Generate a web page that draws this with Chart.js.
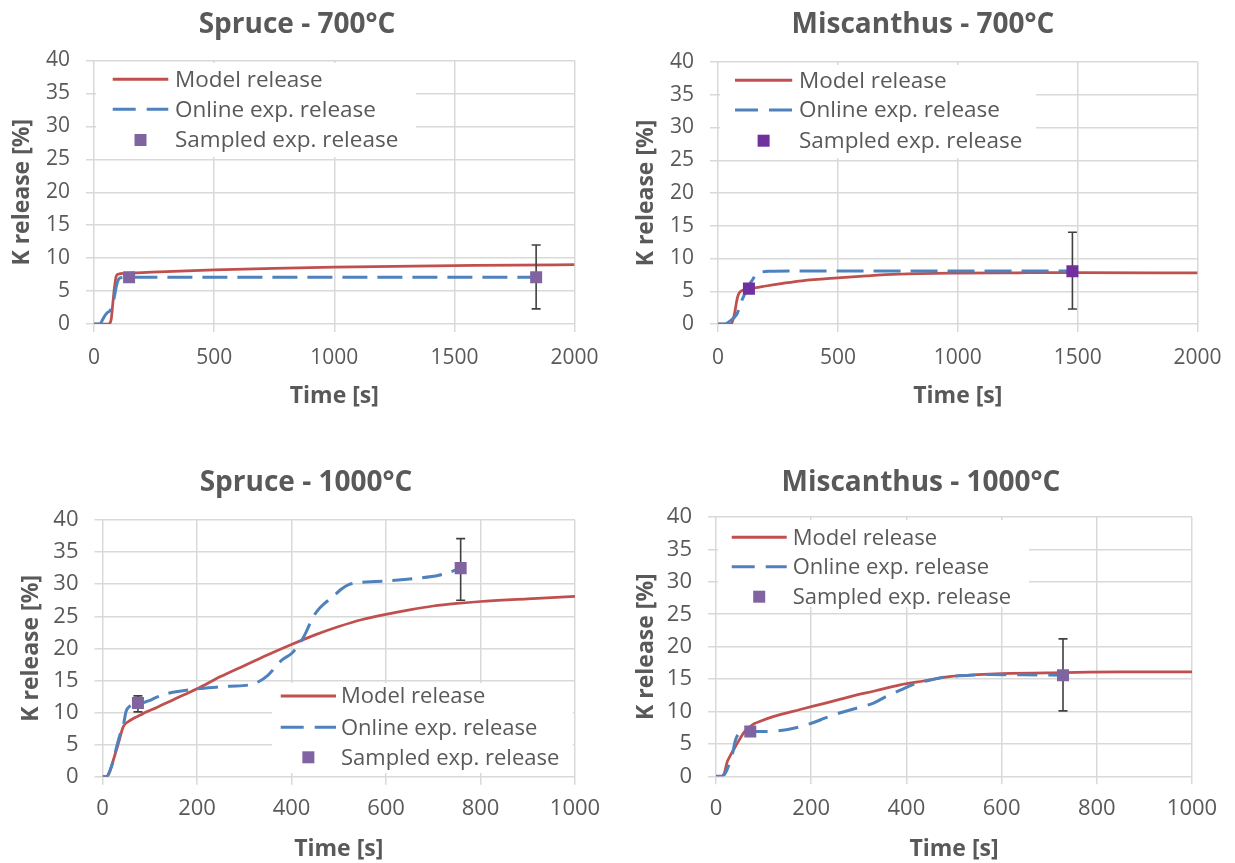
<!DOCTYPE html>
<html><head><meta charset="utf-8">
<script src="https://cdn.jsdelivr.net/npm/chart.js@4/dist/chart.umd.min.js"></script>
<style>
html,body{margin:0;padding:0;background:#fff;width:1235px;height:863px;overflow:hidden}
canvas{position:absolute}
</style></head><body>
<canvas id="c1"></canvas><canvas id="c2"></canvas><canvas id="c3"></canvas><canvas id="c4"></canvas>
<script>
// ---------- DATA ----------
const seriesLabels = ['Model release', 'Online exp. release', 'Sampled exp. release'];
const panelTitles = ['Spruce - 700°C', 'Miscanthus - 700°C', 'Spruce - 1000°C', 'Miscanthus - 1000°C'];
const xAxisTitle = 'Time [s]';
const yAxisTitle = 'K release [%]';
const yTicks = [0, 5, 10, 15, 20, 25, 30, 35, 40];
const xTicks700 = [0, 500, 1000, 1500, 2000];
const xTicks1000 = [0, 200, 400, 600, 800, 1000];

// Spruce 700 °C  [time s, K release %]
const spruce700Model = [[0,0],[60,0],[66,0.1],[72,0.8],[78,3],[85,5.5],[92,7.2],[100,7.55],[130,7.7],[200,7.8],[300,7.95],[500,8.2],[750,8.45],[1000,8.65],[1250,8.75],[1500,8.85],[1750,8.95],[2000,9.0]];
const spruce700Online = [[0,0],[25,0],[35,0.6],[45,1.25],[55,1.7],[66,2.0],[72,2.4],[80,3.3],[88,4.8],[94,5.9],[100,6.6],[108,7.0],[130,7.08],[300,7.1],[1000,7.1],[1840,7.1]];
const spruce700SampledT = [146, 1840];
const spruce700SampledK = [7.1, 7.1];
const spruce700ErrLow = [null, 2.3];
const spruce700ErrHigh = [null, 12.0];

// Miscanthus 700 °C
const misc700Model = [[0,0],[55,0],[62,0.6],[70,1.8],[78,3.5],[85,4.5],[95,5.0],[130,5.35],[200,5.8],[270,6.2],[350,6.6],[500,7.05],[620,7.35],[750,7.6],[1000,7.77],[1250,7.82],[1500,7.85],[2000,7.8]];
const misc700Online = [[0,0],[28,0],[48,0.4],[69,1.05],[80,1.6],[90,2.6],[97,3.4],[108,4.3],[118,5.15],[132,6.1],[145,6.8],[155,7.4],[166,7.75],[185,7.95],[210,8.05],[300,8.1],[800,8.1],[1480,8.1]];
const misc700SampledT = [129, 1478];
const misc700SampledK = [5.4, 8.05];
const misc700ErrLow = [null, 2.3];
const misc700ErrHigh = [null, 14.0];

// Spruce 1000 °C
const spruce1000Model = [[0,0],[8,0],[14,0.5],[23,2.6],[34,5.3],[44,7.8],[55,8.6],[66,9.1],[80,9.6],[90,10.0],[115,10.8],[150,12.0],[200,13.7],[250,15.6],[300,17.3],[350,19.0],[400,20.6],[450,22.1],[500,23.4],[550,24.5],[600,25.3],[650,26.0],[700,26.6],[750,27.0],[800,27.3],[900,27.7],[1000,28.1]];
const spruce1000Online = [[0,0],[8,0],[16,1.0],[24,2.8],[30,4.7],[38,6.8],[44,8.0],[50,10.2],[58,11.0],[70,11.3],[85,11.5],[97,11.8],[115,12.4],[139,13.0],[170,13.4],[200,13.7],[240,13.95],[270,14.1],[310,14.3],[330,14.8],[350,15.8],[365,17.0],[380,18.2],[400,19.2],[415,20.5],[428,22.1],[440,24.0],[453,25.7],[470,27.0],[487,28.0],[505,29.2],[520,29.9],[550,30.3],[578,30.4],[620,30.6],[662,30.9],[712,31.4],[740,32.0],[758,32.5]];
const spruce1000SampledT = [75, 758];
const spruce1000SampledK = [11.5, 32.5];
const spruce1000ErrLow = [10.1, 27.5];
const spruce1000ErrHigh = [12.6, 37.1];

// Miscanthus 1000 °C
const misc1000Model = [[0,0],[12,0],[18,0.6],[23,2.1],[30,3.2],[37,4.1],[48,5.5],[58,6.7],[65,7.3],[72,7.7],[80,8.1],[93,8.5],[120,9.2],[177,10.3],[230,11.3],[282,12.3],[335,13.2],[387,14.1],[436,14.7],[494,15.4],[550,15.7],[600,15.85],[727,16.0],[850,16.1],[1000,16.1]];
const misc1000Online = [[0,0],[12,0],[18,0.3],[23,1.0],[30,2.4],[34,3.3],[41,5.6],[47,6.5],[58,6.9],[72,6.9],[114,6.9],[140,7.1],[156,7.3],[180,7.7],[205,8.3],[230,9.0],[261,9.8],[300,10.6],[331,11.3],[360,12.4],[387,13.3],[420,14.3],[453,14.9],[480,15.3],[511,15.5],[550,15.65],[578,15.7],[650,15.65],[729,15.6]];
const misc1000SampledT = [72, 729];
const misc1000SampledK = [6.9, 15.6];
const misc1000ErrLow = [null, 10.1];
const misc1000ErrHigh = [null, 21.2];

// ---------- STYLE / LAYOUT ----------
const FONT = "'Open Sans', sans-serif";
const TXT = '#595959';
const GRID = '#d9d9d9';
const RED = '#c0504d', BLUE = '#4f81bd';

const panels = [
  {id:'c1', title:panelTitles[0], xTicks:xTicks700, model:spruce700Model, online:spruce700Online,
   sT:spruce700SampledT, sK:spruce700SampledK, eLo:spruce700ErrLow, eHi:spruce700ErrHigh,
   mColor:'#8064a2', dash:[25,10], box:[0,0,612,430], plot:[94,60.5,576,324],
   titleAt:[297,25], yTitleX:22, xTitleY:396, xLabelY:358, tickSize:21, legendSize:22.5,
   legend:{rect:[96,63,416,157], line:[112.7,168.3], textX:175, rows:[79.3,109.3,140]}},
  {id:'c2', title:panelTitles[1], xTicks:xTicks700, model:misc700Model, online:misc700Online,
   sT:misc700SampledT, sK:misc700SampledK, eLo:misc700ErrLow, eHi:misc700ErrHigh,
   mColor:'#7030a0', dash:[27,10], box:[612,0,623,430], plot:[718,62,1199,324],
   titleAt:[923,25], yTitleX:646, xTitleY:396, xLabelY:358, tickSize:21, legendSize:22.5,
   legend:{rect:[720,65,1036,158], line:[735,792.2], textX:799, rows:[80.3,110,140.7]}},
  {id:'c3', title:panelTitles[2], xTicks:xTicks1000, model:spruce1000Model, online:spruce1000Online,
   sT:spruce1000SampledT, sK:spruce1000SampledK, eLo:spruce1000ErrLow, eHi:spruce1000ErrHigh,
   mColor:'#8064a2', dash:[20,10], box:[0,430,612,433], plot:[102.5,520,575,776.7],
   titleAt:[306,483], yTitleX:31, xTitleY:849, xLabelY:809, tickSize:22, legendSize:22,
   legend:{rect:[272,683,573,773], line:[280.7,336], textX:341, rows:[696,727.3,757.3]}},
  {id:'c4', title:panelTitles[3], xTicks:xTicks1000, model:misc1000Model, online:misc1000Online,
   sT:misc1000SampledT, sK:misc1000SampledK, eLo:misc1000ErrLow, eHi:misc1000ErrHigh,
   mColor:'#8064a2', dash:[20,11], box:[612,430,623,433], plot:[716,517,1192,776.3],
   titleAt:[921,483], yTitleX:646, xTitleY:849, xLabelY:809, tickSize:22, legendSize:22,
   legend:{rect:[718,520,1029,607], line:[731.7,786.7], textX:792.7, rows:[537.3,566.7,596.7]}}
];

const errorBars = {
  id:'errorBars',
  beforeDatasetDraw(chart, args, opts) {
    if (args.index !== 2) return;
    const p = opts.panel, ctx = chart.ctx, xs = chart.scales.x, ys = chart.scales.y;
    ctx.save();
    ctx.strokeStyle = '#404040'; ctx.lineWidth = 1.6;
    p.sT.forEach((t, i) => {
      if (p.eLo[i] == null) return;
      const x = xs.getPixelForValue(t), y1 = ys.getPixelForValue(p.eHi[i]), y2 = ys.getPixelForValue(p.eLo[i]);
      ctx.beginPath();
      ctx.moveTo(x, y1); ctx.lineTo(x, y2);
      ctx.moveTo(x - 4.5, y1); ctx.lineTo(x + 4.5, y1);
      ctx.moveTo(x - 4.5, y2); ctx.lineTo(x + 4.5, y2);
      ctx.stroke();
    });
    ctx.restore();
  }
};

const decor = {
  id:'decor',
  afterDraw(chart, args, opts) {
    const p = opts.panel, ctx = chart.ctx, bx = p.box[0], by = p.box[1];
    ctx.save();
    // title
    ctx.fillStyle = TXT; ctx.font = 'bold 28px ' + FONT;
    ctx.textAlign = 'center'; ctx.textBaseline = 'middle';
    ctx.fillText(p.title, p.titleAt[0] - bx, p.titleAt[1] - by);
    // legend
    const lg = p.legend, r = lg.rect;
    ctx.fillStyle = '#ffffff';
    ctx.fillRect(r[0] - bx, r[1] - by, r[2] - r[0], r[3] - r[1]);
    const ds = chart.data.datasets;
    ds.forEach((d, i) => {
      const y = lg.rows[i] - by;
      if (i < 2) {
        ctx.strokeStyle = d.borderColor; ctx.lineWidth = 3;
        ctx.setLineDash(i === 1 ? [23, 11] : []);
        ctx.beginPath(); ctx.moveTo(lg.line[0] - bx, y); ctx.lineTo(lg.line[1] - bx, y); ctx.stroke();
        ctx.setLineDash([]);
      } else {
        const cx = (lg.line[0] + lg.line[1]) / 2 - bx;
        ctx.fillStyle = d.backgroundColor;
        ctx.fillRect(cx - 6, y - 6, 12, 12);
      }
      ctx.fillStyle = TXT; ctx.font = p.legendSize + 'px ' + FONT;
      ctx.textAlign = 'left'; ctx.textBaseline = 'middle';
      ctx.fillText(d.label, lg.textX - bx, y + 1);
    });
    ctx.restore();
  }
};

panels.forEach(p => {
  const cv = document.getElementById(p.id);
  const [bx, by, bw, bh] = p.box;
  cv.width = bw; cv.height = bh;
  cv.style.left = bx + 'px'; cv.style.top = by + 'px';
  cv.style.width = bw + 'px'; cv.style.height = bh + 'px';
  const L = p.plot[0] - bx, T = p.plot[1] - by, R = p.plot[2] - bx, B = p.plot[3] - by;
  const tickLen = 8;
  const tickLH = p.tickSize * 1.2;
  const titleLH = 23 * 1.2;
  const xMax = p.xTicks[p.xTicks.length - 1];
  const xStep = p.xTicks[1] - p.xTicks[0];
  new Chart(cv, {
    type:'scatter',
    data:{datasets:[
      {label:seriesLabels[0], data:p.model.map(([x, y]) => ({x, y})), showLine:true,
       borderColor:RED, backgroundColor:RED, borderWidth:2.75, pointRadius:0,
       cubicInterpolationMode:'monotone', order:2},
      {label:seriesLabels[1], data:p.online.map(([x, y]) => ({x, y})), showLine:true,
       borderColor:BLUE, backgroundColor:BLUE, borderWidth:3, borderDash:p.dash, pointRadius:0,
       cubicInterpolationMode:'monotone', order:1},
      {label:seriesLabels[2], data:p.sT.map((t, i) => ({x:t, y:p.sK[i]})), showLine:false,
       pointStyle:'rect', pointRadius:8.5, borderWidth:0,
       backgroundColor:p.mColor, borderColor:p.mColor, order:0}
    ]},
    options:{
      responsive:false, animation:false, devicePixelRatio:1,
      events:[],
      layout:{padding:{left:0, top:T, right:bw - R, bottom:0}},
      plugins:{legend:{display:false}, title:{display:false}, tooltip:{enabled:false},
               errorBars:{panel:p}, decor:{panel:p}},
      scales:{
        x:{type:'linear', min:0, max:xMax,
           ticks:{stepSize:xStep, color:TXT, font:{family:FONT, size:p.tickSize},
                  callback:v => String(v),
                  padding:(p.xLabelY - by) - B - tickLen - tickLH / 2, maxRotation:0, autoSkip:false},
           grid:{color:GRID, lineWidth:1.5, tickLength:tickLen, drawTicks:true},
           border:{display:false},
           title:{display:true, text:xAxisTitle, color:TXT, font:{family:FONT, size:23, weight:'bold'},
                  padding:{top:0, bottom:bh - (p.xTitleY - by) - titleLH / 2}},
           afterFit:s => { s.height = bh - B; }},
        y:{type:'linear', min:yTicks[0], max:yTicks[yTicks.length - 1],
           ticks:{stepSize:yTicks[1] - yTicks[0], color:TXT, font:{family:FONT, size:p.tickSize}, padding:16,
                  callback:v => String(v)},
           grid:{color:GRID, lineWidth:1.5, tickLength:tickLen, drawTicks:true},
           border:{display:false},
           title:{display:true, text:yAxisTitle, color:TXT, font:{family:FONT, size:23, weight:'bold'},
                  padding:{top:(p.yTitleX - bx) - titleLH / 2, bottom:0}},
           afterFit:s => { s.width = L; }}
      }
    },
    plugins:[errorBars, decor]
  });
});
</script>
</body></html>
